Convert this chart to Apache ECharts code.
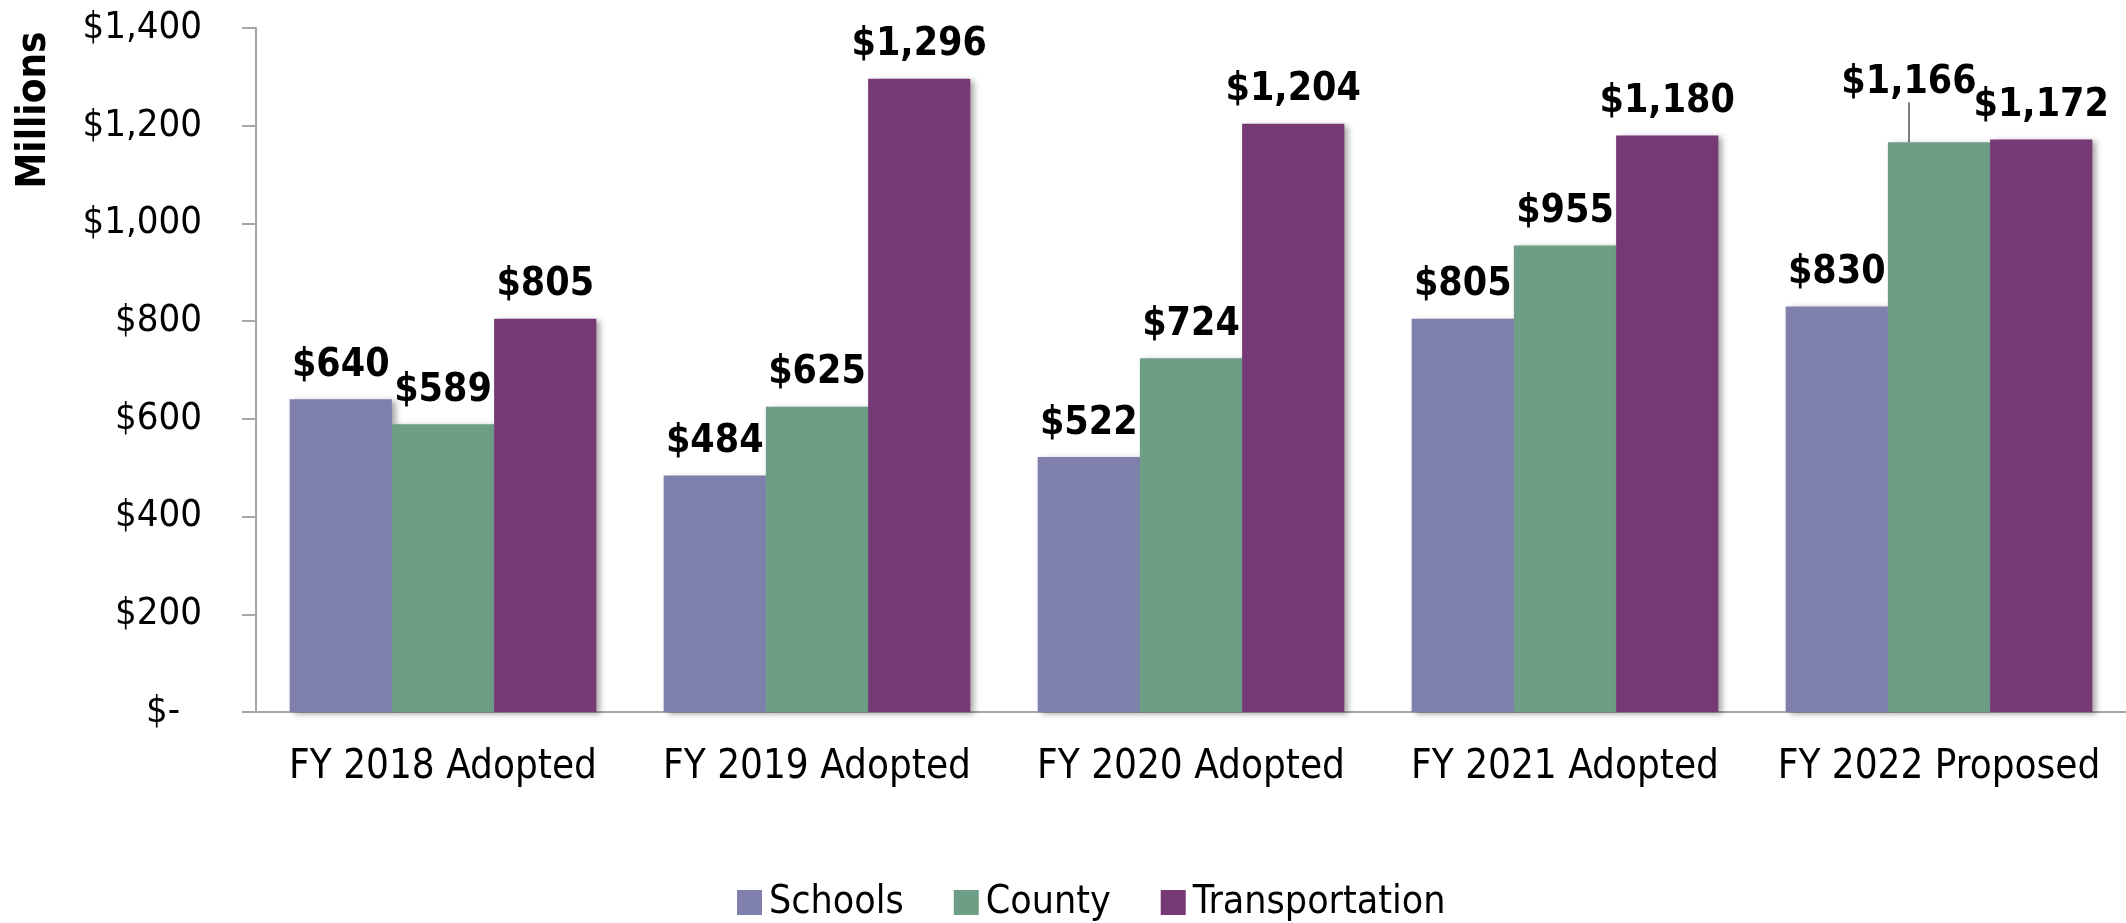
<!DOCTYPE html>
<html>
<head>
<meta charset="utf-8">
<script src="https://cdn.jsdelivr.net/npm/echarts@6/dist/echarts.min.js"></script>
<style>
  html, body { margin: 0; padding: 0; background: #fff; }
  #chart { width: 2126px; height: 923px; }
</style>
</head>
<body>
<div id="chart"></div>
<script>
const categories = ['FY 2018 Adopted', 'FY 2019 Adopted', 'FY 2020 Adopted', 'FY 2021 Adopted', 'FY 2022 Proposed']
const schools = [640, 484, 522, 805, 830]
const county = [589, 625, 724, 955, 1166]
const transportation = [805, 1296, 1204, 1180, 1172]
const yTicks = [0, 200, 400, 600, 800, 1000, 1200, 1400]

const FONT = '"DejaVu Sans Condensed", "Liberation Sans Narrow", sans-serif'

const money = (v) => '$' + Number(v).toLocaleString('en-US')

const chart = echarts.init(document.getElementById('chart'))

function barSeries(name, data, color) {
  return {
    name: name,
    type: 'bar',
    data: data,
    barGap: '0%',
    barCategoryGap: '18%',
    itemStyle: {
      color: color,
      shadowColor: 'rgba(0,0,0,0.35)',
      shadowBlur: 6,
      shadowOffsetX: 4,
      shadowOffsetY: 2,
    },
    label: {
      show: true,
      position: 'top',
      distance: 14,
      fontFamily: FONT,
      fontSize: 39,
      fontWeight: 'bold',
      color: '#000',
      formatter: (p) => money(p.value),
    },
  }
}

const countySeries = barSeries('County', county.map((v, i) => {
  // last county label sits up and to the left, with a leader line
  if (i === 4) return { value: v, labelLine: { show: true, lineStyle: { color: '#000', width: 1 } } }
  return v
}), '#6d9f86')
countySeries.labelLayout = (p) => (p.dataIndex === 4 ? { dx: -30, dy: -26 } : {})

const option = {
  backgroundColor: '#fff',
  animation: false,
  grid: { left: 256, right: 0, top: 28, bottom: 211 },
  legend: {
    left: 732,
    top: 878,
    itemWidth: 25,
    itemHeight: 25,
    itemGap: 50,
    icon: 'rect',
    textStyle: { fontFamily: FONT, fontSize: 39, color: '#000', padding: [0, 0, 0, 2] },
    data: ['Schools', 'County', 'Transportation'],
  },
  xAxis: {
    type: 'category',
    data: categories,
    axisLine: { lineStyle: { color: '#a6a6a6', width: 2 } },
    axisTick: { show: false },
    axisLabel: { fontFamily: FONT, fontSize: 40, color: '#000', margin: 36, interval: 0 },
  },
  yAxis: {
    type: 'value',
    min: yTicks[0],
    max: yTicks[yTicks.length - 1],
    interval: 200,
    splitLine: { show: false },
    axisLine: { show: true, lineStyle: { color: '#a6a6a6', width: 2 } },
    axisTick: { show: true, length: 14, lineStyle: { color: '#a6a6a6', width: 2 } },
    axisLabel: {
      fontFamily: FONT,
      fontSize: 38,
      color: '#000',
      margin: 54,
      formatter: (v) => (v === 0 ? '{z|$-}' : money(v)),
      rich: { z: { fontFamily: FONT, fontSize: 38, color: '#000', padding: [0, 22, 0, 0] } },
    },
  },
  graphic: [
    {
      type: 'text',
      x: 35,
      y: 110,
      rotation: Math.PI / 2,
      style: {
        text: 'Millions',
        fontFamily: FONT,
        fontSize: 40,
        fontWeight: 'bold',
        fill: '#000',
        align: 'center',
        verticalAlign: 'middle',
      },
    },
  ],
  series: [
    barSeries('Schools', schools, '#8080ad'),
    countySeries,
    barSeries('Transportation', transportation, '#763976'),
  ],
}

chart.setOption(option)
</script>
</body>
</html>
